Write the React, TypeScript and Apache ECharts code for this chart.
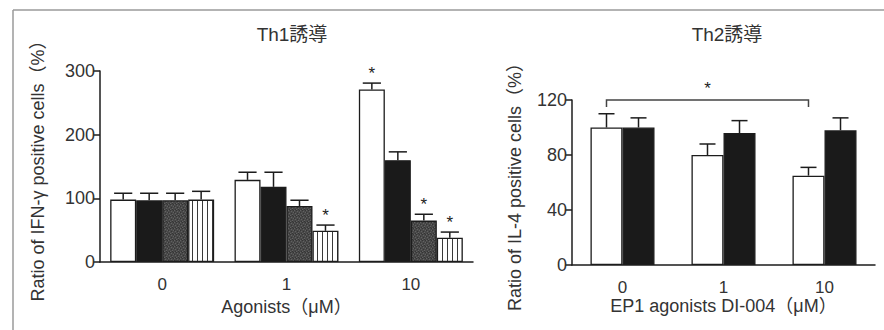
import React, { useEffect, useRef } from 'react';
import * as echarts from 'echarts';

// ---------- data ----------
const th1Categories = ['0', '1', '10'];
const th1Control = [98, 129, 271];
const th1ControlSd = [10, 12, 10];
const th1ControlStar = [0, 0, 1];
const th1Black = [97, 118, 160];
const th1BlackSd = [11, 23, 13];
const th1BlackStar = [0, 0, 0];
const th1Gray = [97, 88, 65];
const th1GraySd = [11, 9, 10];
const th1GrayStar = [0, 0, 1];
const th1Striped = [98, 49, 38];
const th1StripedSd = [13, 9, 9];
const th1StripedStar = [0, 1, 1];
const th1Ticks = [0, 100, 200, 300];

const th2Categories = ['0', '1', '10'];
const th2White = [100, 80, 65];
const th2WhiteSd = [10, 8, 6];
const th2Black = [100, 96, 98];
const th2BlackSd = [7, 9, 9];
const th2Ticks = [0, 40, 80, 120];
// significance bracket: from category, to category, level, end level
const th2Bracket = [[0, 2, 120, 115]];

const FONT = "'Liberation Sans', Arial, 'Noto Sans CJK JP', sans-serif";
const INK = '#1c1c1c';
const TXT = '#333';

function makePattern(kind: 'stripe' | 'stipple') {
  const c = document.createElement('canvas');
  if (kind === 'stripe') {
    c.width = 5; c.height = 8;
    const g = c.getContext('2d')!;
    g.fillStyle = '#ffffff'; g.fillRect(0, 0, 5, 8);
    g.fillStyle = '#3a3a3a'; g.fillRect(2, 0, 1, 8);
  } else {
    c.width = 6; c.height = 6;
    const g = c.getContext('2d')!;
    g.fillStyle = '#484848'; g.fillRect(0, 0, 6, 6);
    g.fillStyle = '#626262';
    g.fillRect(0, 0, 1, 1); g.fillRect(3, 1, 1, 1); g.fillRect(1, 3, 1, 1); g.fillRect(4, 4, 1, 1); g.fillRect(5, 2, 1, 1); g.fillRect(2, 5, 1, 1);
    g.fillStyle = '#353535';
    g.fillRect(2, 0, 1, 1); g.fillRect(5, 0, 1, 1); g.fillRect(0, 2, 1, 1); g.fillRect(3, 3, 1, 1); g.fillRect(1, 5, 1, 1); g.fillRect(4, 5, 1, 1);
  }
  return { image: c.toDataURL(), repeat: 'repeat', imageWidth: c.width, imageHeight: c.height };
}

function errorRender(barIndex: number, nBars: number, barPct: number, capRatio: number) {
  return (params: any, api: any) => {
    const cat = api.value(0);
    const val = api.value(1);
    const sd = api.value(2);
    const star = api.value(3);
    const base = api.coord([cat, val]);
    const top = api.coord([cat, val + sd]);
    const catW = api.size([1, 0])[0];
    const bw = catW * barPct;
    const x = base[0] + (barIndex - (nBars - 1) / 2) * bw;
    const cap = (bw * capRatio) / 2;
    const st = { stroke: INK, lineWidth: 1.5 };
    const children: any[] = [
      { type: 'line', shape: { x1: x, y1: base[1], x2: x, y2: top[1] }, style: st },
      { type: 'line', shape: { x1: x - cap, y1: top[1], x2: x + cap, y2: top[1] }, style: st },
    ];
    if (star) {
      children.push({
        type: 'text', x, y: top[1] - 1,
        style: { text: '*', textAlign: 'center', textVerticalAlign: 'bottom', fontSize: 17, fontFamily: FONT, fill: '#222' },
      });
    }
    return { type: 'group', children };
  };
}

function bracketRender(barPct: number, nBars: number) {
  return (params: any, api: any) => {
    const c0 = api.value(0);
    const c1 = api.value(1);
    const lvl = api.value(2);
    const end = api.value(3);
    const catW = api.size([1, 0])[0];
    const bw = catW * barPct;
    const off = (0 - (nBars - 1) / 2) * bw;
    const a = api.coord([c0, lvl]);
    const b = api.coord([c1, lvl]);
    const ae = api.coord([c0, end]);
    const xa = a[0] + off;
    const xb = b[0] + off;
    return {
      type: 'group',
      children: [
        { type: 'polyline', shape: { points: [[xa, ae[1]], [xa, a[1]], [xb, a[1]], [xb, ae[1]]] }, style: { stroke: '#444', lineWidth: 1.5, fill: 'none' } },
        { type: 'text', x: (xa + xb) / 2, y: a[1] - 3, style: { text: '*', textAlign: 'center', textVerticalAlign: 'bottom', fontSize: 17, fontFamily: FONT, fill: '#222' } },
      ],
    };
  };
}

function errData(vals: number[], sds: number[], stars: number[]) {
  return vals.map((v, i) => [i, v, sds[i], stars[i]]);
}

export default function App() {
  const ref = useRef<HTMLDivElement>(null);
  useEffect(() => {
    if (!ref.current) return;
    const chart = echarts.init(ref.current, undefined, { renderer: 'svg' });
    const stripe = makePattern('stripe');
    const stipple = makePattern('stipple');
    const L_PCT = 0.209;
    const R_PCT = 0.317;

    const axisCommonX = (data: string[], idx: number, name: string, gap: number) => ({
      type: 'category', gridIndex: idx, data,
      name, nameLocation: 'middle', nameGap: gap,
      nameTextStyle: { fontSize: 18, color: TXT, fontFamily: FONT },
      axisLine: { lineStyle: { color: INK, width: 1.5 } },
      axisTick: { length: 8, lineStyle: { color: INK, width: 1.5 } },
      axisLabel: { fontSize: 17, color: TXT, fontFamily: FONT, margin: 14 },
    });
    const axisCommonY = (idx: number, max: number, interval: number, name: string, gap: number) => ({
      type: 'value', gridIndex: idx, min: 0, max, interval,
      name, nameLocation: 'middle', nameGap: gap,
      nameTextStyle: { fontSize: 18, color: TXT, fontFamily: FONT },
      axisLine: { show: true, lineStyle: { color: INK, width: 1.5 } },
      axisTick: { show: true, length: 7, lineStyle: { color: INK, width: 1.5 } },
      axisLabel: { fontSize: 18, color: TXT, fontFamily: FONT, margin: 5 },
      splitLine: { show: false },
    });

    const barBase = { type: 'bar', barGap: '0%', z: 2 };
    const border = { borderColor: INK, borderWidth: 1.3 };

    chart.setOption({
      animation: false,
      backgroundColor: '#ffffff',
      grid: [
        { left: 100, right: 884 - 473, top: 71, bottom: 330 - 262 },
        { left: 572, right: 884 - 875, top: 100, bottom: 330 - 265 },
      ],
      xAxis: [
        axisCommonX(th1Categories, 0, 'Agonists（μM）', 29),
        axisCommonX(th2Categories, 1, 'EP1 agonists DI-004（μM）', 27),
      ],
      yAxis: [
        { ...axisCommonY(0, th1Ticks[th1Ticks.length - 1], th1Ticks[1] - th1Ticks[0], 'Ratio of IFN-γ positive cells（%）', 53) },
        { ...axisCommonY(1, th2Ticks[th2Ticks.length - 1], th2Ticks[1] - th2Ticks[0], 'Ratio of IL-4 positive cells（%）', 48) },
      ],
      graphic: [
        { type: 'line', shape: { x1: 13, y1: 10, x2: 884, y2: 10 }, style: { stroke: '#9a9a9a', lineWidth: 1.5 } },
        { type: 'line', shape: { x1: 13, y1: 10, x2: 13, y2: 330 }, style: { stroke: '#9a9a9a', lineWidth: 1.5 } },
        { type: 'text', x: 292, y: 34, style: { text: 'Th1誘導', textAlign: 'center', textVerticalAlign: 'middle', fontSize: 19, fontFamily: FONT, fill: TXT } },
        { type: 'text', x: 727, y: 34, style: { text: 'Th2誘導', textAlign: 'center', textVerticalAlign: 'middle', fontSize: 19, fontFamily: FONT, fill: TXT } },
      ],
      series: [
        { ...barBase, name: 'Th1 白', xAxisIndex: 0, yAxisIndex: 0, barWidth: `${L_PCT * 100}%`, data: th1Control, itemStyle: { color: '#ffffff', ...border } },
        { ...barBase, name: 'Th1 黒', xAxisIndex: 0, yAxisIndex: 0, barWidth: `${L_PCT * 100}%`, data: th1Black, itemStyle: { color: '#1a1a1a', ...border } },
        { ...barBase, name: 'Th1 灰', xAxisIndex: 0, yAxisIndex: 0, barWidth: `${L_PCT * 100}%`, data: th1Gray, itemStyle: { color: stipple, ...border } },
        { ...barBase, name: 'Th1 縞', xAxisIndex: 0, yAxisIndex: 0, barWidth: `${L_PCT * 100}%`, data: th1Striped, itemStyle: { color: stripe, ...border } },
        { type: 'custom', xAxisIndex: 0, yAxisIndex: 0, z: 3, renderItem: errorRender(0, 4, L_PCT, 0.7), data: errData(th1Control, th1ControlSd, th1ControlStar) },
        { type: 'custom', xAxisIndex: 0, yAxisIndex: 0, z: 3, renderItem: errorRender(1, 4, L_PCT, 0.7), data: errData(th1Black, th1BlackSd, th1BlackStar) },
        { type: 'custom', xAxisIndex: 0, yAxisIndex: 0, z: 3, renderItem: errorRender(2, 4, L_PCT, 0.7), data: errData(th1Gray, th1GraySd, th1GrayStar) },
        { type: 'custom', xAxisIndex: 0, yAxisIndex: 0, z: 3, renderItem: errorRender(3, 4, L_PCT, 0.7), data: errData(th1Striped, th1StripedSd, th1StripedStar) },

        { ...barBase, name: 'Th2 白', xAxisIndex: 1, yAxisIndex: 1, barWidth: `${R_PCT * 100}%`, data: th2White, itemStyle: { color: '#ffffff', ...border } },
        { ...barBase, name: 'Th2 黒', xAxisIndex: 1, yAxisIndex: 1, barWidth: `${R_PCT * 100}%`, data: th2Black, itemStyle: { color: '#1a1a1a', ...border } },
        { type: 'custom', xAxisIndex: 1, yAxisIndex: 1, z: 3, renderItem: errorRender(0, 2, R_PCT, 0.5), data: errData(th2White, th2WhiteSd, [0, 0, 0]) },
        { type: 'custom', xAxisIndex: 1, yAxisIndex: 1, z: 3, renderItem: errorRender(1, 2, R_PCT, 0.5), data: errData(th2Black, th2BlackSd, [0, 0, 0]) },
        { type: 'custom', xAxisIndex: 1, yAxisIndex: 1, z: 3, clip: false, renderItem: bracketRender(R_PCT, 2), data: th2Bracket },
      ],
    });
    return () => chart.dispose();
  }, []);
  return <div ref={ref} style={{ position: 'fixed', left: 0, top: 0, width: 884, height: 330 }} />;
}
